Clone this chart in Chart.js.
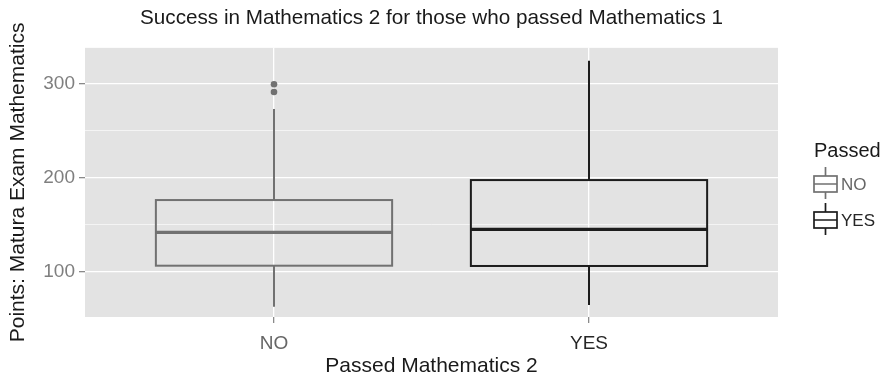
<!DOCTYPE html>
<html>
<head>
<meta charset="utf-8">
<title>Success in Mathematics 2</title>
<script src="https://cdn.jsdelivr.net/npm/chart.js@4/dist/chart.umd.min.js"></script>
<style>
  html, body { margin: 0; padding: 0; background: #fff; }
  #chart { display: block; }
</style>
</head>
<body>
<canvas id="chart" width="892" height="379"></canvas>
<script>
// Box plot summary per group (passed Mathematics 2?)
const categories = ['NO', 'YES'];
const whiskerLow = [62.5, 64.3];
const lowerQuartile = [106.2, 105.9];
const median = [141.8, 145.0];
const upperQuartile = [176.2, 197.5];
const whiskerHigh = [273.2, 324.7];
const outliersNo = [291.4, 299.6];
const outliersYes = [];
const yTickValues = [100, 150, 200, 250, 300];

const groupColors = ['#717171', '#1c1c1c'];
const tickLabelColors = ['#666666', '#262626'];
const panelColor = '#E3E3E3';
const boxWidth = 0.75;

Chart.defaults.font.family = "'Liberation Sans', Arial, Helvetica, sans-serif";

// grey panel behind the grid
const panelBackground = {
    id: 'panelBackground',
    beforeDraw(chart) {
        const { ctx, chartArea: a } = chart;
        ctx.save();
        ctx.fillStyle = panelColor;
        ctx.fillRect(a.left, a.top, a.right - a.left, a.bottom - a.top);
        ctx.restore();
    }
};

// boxes, medians and whiskers
const boxPlot = {
    id: 'boxPlot',
    beforeDatasetsDraw(chart) {
        const { ctx, scales: { x, y } } = chart;
        ctx.save();
        categories.forEach((cat, i) => {
            const cx = x.getPixelForValue(i + 1);
            const left = x.getPixelForValue(i + 1 - boxWidth / 2);
            const right = x.getPixelForValue(i + 1 + boxWidth / 2);
            const top = y.getPixelForValue(upperQuartile[i]);
            const bottom = y.getPixelForValue(lowerQuartile[i]);
            ctx.strokeStyle = groupColors[i];
            ctx.lineCap = 'butt';

            // whiskers
            ctx.lineWidth = 2;
            ctx.beginPath();
            ctx.moveTo(cx, y.getPixelForValue(whiskerHigh[i]));
            ctx.lineTo(cx, top);
            ctx.moveTo(cx, bottom);
            ctx.lineTo(cx, y.getPixelForValue(whiskerLow[i]));
            ctx.stroke();

            // box
            ctx.strokeRect(left, top, right - left, bottom - top);

            // median
            ctx.lineWidth = 3.2;
            ctx.beginPath();
            const my = y.getPixelForValue(median[i]);
            ctx.moveTo(left, my);
            ctx.lineTo(right, my);
            ctx.stroke();
        });
        ctx.restore();
    }
};

// legend on the right with little box glyphs
const boxLegend = {
    id: 'boxLegend',
    afterDraw(chart) {
        const { ctx } = chart;
        const x0 = 814, keyW = 23;
        ctx.save();
        ctx.fillStyle = '#1a1a1a';
        ctx.font = "20px 'Liberation Sans', Arial, sans-serif";
        ctx.textBaseline = 'alphabetic';
        ctx.fillText('Passed', x0, 157);

        ctx.font = "17px 'Liberation Sans', Arial, sans-serif";
        ctx.textBaseline = 'middle';
        categories.forEach((cat, i) => {
            const cy = 184 + i * 36;
            const cx = x0 + keyW / 2;
            ctx.strokeStyle = groupColors[i];
            ctx.lineWidth = 1.7;
            ctx.beginPath();
            ctx.moveTo(cx, cy - 17);
            ctx.lineTo(cx, cy - 8);
            ctx.moveTo(cx, cy + 8);
            ctx.lineTo(cx, cy + 15);
            ctx.moveTo(x0, cy);
            ctx.lineTo(x0 + keyW, cy);
            ctx.stroke();
            ctx.strokeRect(x0, cy - 8, keyW, 16);

            ctx.fillStyle = tickLabelColors[i];
            ctx.fillText(cat, x0 + keyW + 4, cy + 1);
        });
        ctx.restore();
    }
};

const ctx = document.getElementById('chart').getContext('2d');
new Chart(ctx, {
    type: 'scatter',
    data: {
        datasets: [
            {
                label: 'NO',
                data: outliersNo.map(v => ({ x: 1, y: v })),
                pointBackgroundColor: groupColors[0],
                pointBorderWidth: 0,
                pointRadius: 3.3
            },
            {
                label: 'YES',
                data: outliersYes.map(v => ({ x: 2, y: v })),
                pointBackgroundColor: groupColors[1],
                pointBorderWidth: 0,
                pointRadius: 3.3
            }
        ]
    },
    options: {
        responsive: false,
        animation: false,
        events: [],
        layout: { padding: { top: 0, left: 0, bottom: 0, right: 114 } },
        plugins: {
            legend: { display: false },
            tooltip: { enabled: false },
            title: {
                display: true,
                fullSize: false,
                text: 'Success in Mathematics 2 for those who passed Mathematics 1',
                color: '#1a1a1a',
                font: { size: 20.7, weight: 'normal' },
                padding: { top: 6, bottom: 17 }
            }
        },
        scales: {
            x: {
                type: 'linear',
                min: 0.4,
                max: 2.6,
                afterBuildTicks: scale => {
                    scale.ticks = categories.map((c, i) => ({ value: i + 1 }));
                },
                afterFit: scale => { scale.height = 62; },
                ticks: {
                    callback: v => categories[v - 1],
                    color: c => tickLabelColors[c.index],
                    font: { size: 19 },
                    padding: 9,
                    autoSkip: false,
                    maxRotation: 0
                },
                grid: {
                    color: '#ffffff',
                    lineWidth: 1.3,
                    tickColor: '#8a8a8a',
                    tickLength: 6
                },
                border: { display: false },
                title: {
                    display: true,
                    text: 'Passed Mathematics 2',
                    color: '#1a1a1a',
                    font: { size: 21 },
                    padding: { top: 0, bottom: 0 }
                }
            },
            y: {
                type: 'linear',
                min: 51.5,
                max: 338.5,
                afterBuildTicks: scale => {
                    scale.ticks = yTickValues.map(v => ({ value: v }));
                },
                afterFit: scale => { scale.width = 85; },
                ticks: {
                    callback: v => (v % 100 === 0 ? String(v) : ''),
                    color: '#7f7f7f',
                    font: { size: 19 },
                    padding: 4
                },
                grid: {
                    color: c => (c.tick && c.tick.value % 100 === 0 ? '#ffffff' : 'rgba(255,255,255,0.75)'),
                    lineWidth: c => (c.tick && c.tick.value % 100 === 0 ? 1.3 : 0.8),
                    tickColor: c => (c.tick && c.tick.value % 100 === 0 ? '#8a8a8a' : 'rgba(0,0,0,0)'),
                    tickLength: 6
                },
                border: { display: false },
                title: {
                    display: true,
                    text: 'Points: Matura Exam Mathematics',
                    color: '#1a1a1a',
                    font: { size: 21 },
                    padding: { top: 6, bottom: 0 }
                }
            }
        }
    },
    plugins: [panelBackground, boxPlot, boxLegend]
});
</script>
</body>
</html>
